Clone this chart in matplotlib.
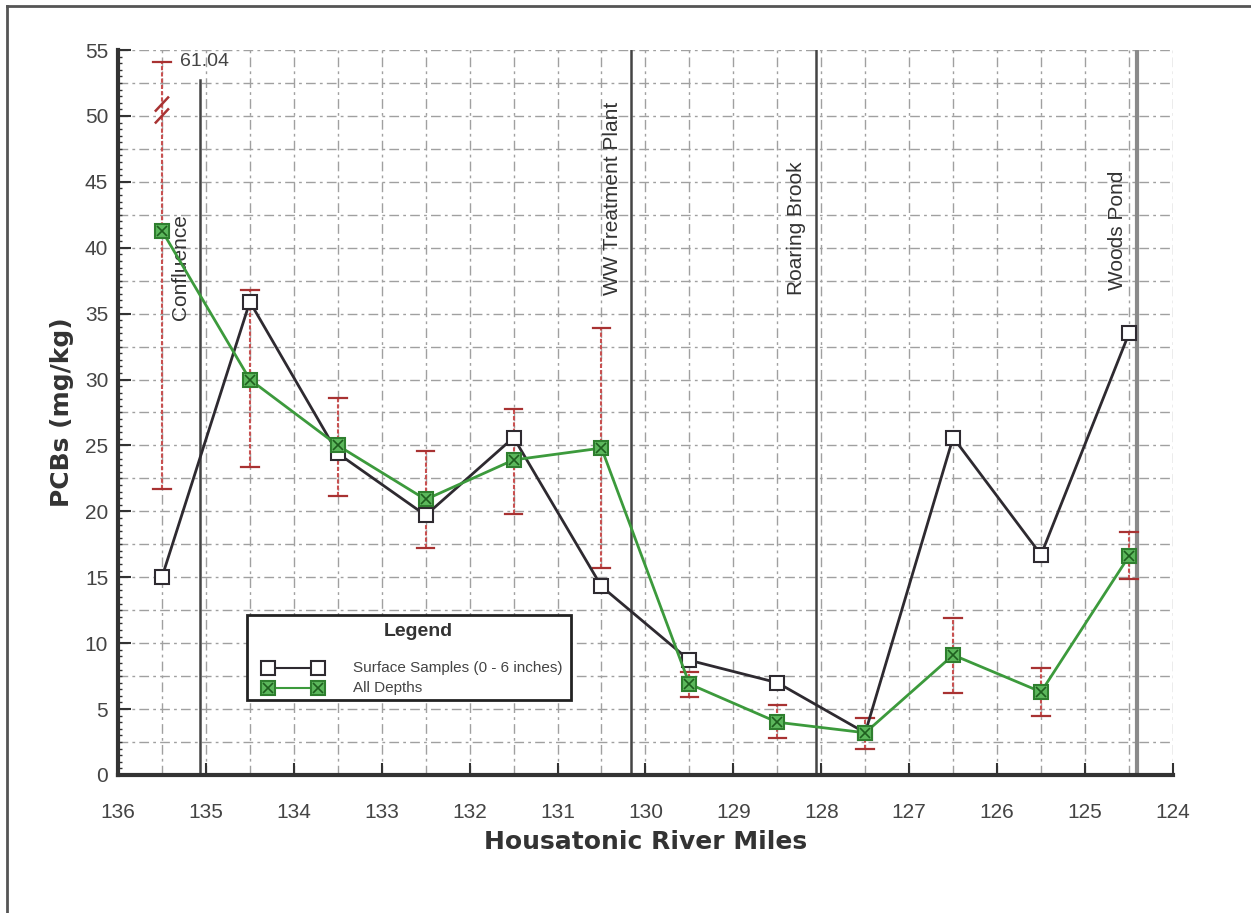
import numpy as np
import matplotlib
matplotlib.use("Agg")
import matplotlib.pyplot as plt
from matplotlib.lines import Line2D
from matplotlib.patches import Rectangle
from matplotlib.ticker import MultipleLocator

plt.rcParams['font.family'] = ['Liberation Sans', 'DejaVu Sans']

# river mile of each sampling reach (midpoints)
river_mile = [135.5, 134.5, 133.5, 132.5, 131.5, 130.5,
              129.5, 128.5, 127.5, 126.5, 125.5, 124.5]

# surface samples (0 - 6 inches)
surface_pcb = [15.0, 35.9, 24.4, 19.7, 25.6, 14.3,
               8.7, 7.0, 3.2, 25.6, 16.7, 33.5]

# all depths, with low / high range
all_depths_pcb = [41.3, 30.0, 25.0, 20.9, 23.9, 24.8,
                  6.9, 4.0, 3.2, 9.1, 6.3, 16.6]
all_depths_low = [21.7, 23.4, 21.2, 17.2, 19.8, 15.7,
                  5.9, 2.8, 2.0, 6.2, 4.5, 14.9]
all_depths_high = [61.04, 36.8, 28.6, 24.6, 27.8, 33.9,
                   7.8, 5.3, 4.3, 11.9, 8.1, 18.4]

# landmarks along the river
landmark_names = ["Confluence", "WW Treatment Plant", "Roaring Brook", "Woods Pond"]
landmark_miles = [135.07, 130.16, 128.06, 124.41]

legend_labels = ["Surface Samples (0 - 6 inches)", "All Depths"]

y_top = 55
y_clip = 54.1   # broken error bar is drawn up to here

xticks = list(range(136, 123, -1))
yticks = list(range(0, 56, 5))

surface_style = dict(color='#2e2a30', linewidth=2, marker='s', markersize=10,
                     markerfacecolor='white', markeredgecolor='#2e2a30', markeredgewidth=1.5)
depth_style = dict(color='#3c9a3c', linewidth=2, marker='s', markersize=10,
                   markerfacecolor='#5cb85c', markeredgecolor='#2f7f2f', markeredgewidth=1.5)
cross_style = dict(linestyle='none', marker='x', markersize=7,
                   markeredgecolor='#1f5f1f', markeredgewidth=1.2)

fig = plt.figure(figsize=(12.51, 9.13), dpi=100)
ax = fig.add_axes([0.0943, 0.1512, 0.8433, 0.794])

ax.set_xlim(136, 124)
ax.set_ylim(0, y_top)

# grid
ax.xaxis.set_minor_locator(MultipleLocator(0.5))
ax.yaxis.set_minor_locator(MultipleLocator(0.5))
ax.set_xticks(xticks)
ax.set_yticks(yticks)
grid_style = dict(color='#a0a0a0', linewidth=1.0, dashes=(7, 3, 2, 3))
for gx in np.arange(136, 123.9, -0.5):
    ax.axvline(gx, zorder=0.5, **grid_style)
for gy in np.arange(2.5, y_top + 0.1, 2.5):
    ax.axhline(gy, zorder=0.5, **grid_style)

for s in ['top', 'right']:
    ax.spines[s].set_visible(False)
for s in ['left', 'bottom']:
    ax.spines[s].set_linewidth(3)
    ax.spines[s].set_color('#333333')

ax.tick_params(axis='both', which='major', direction='in', length=9, width=1.5,
               color='#333333', labelsize=15, labelcolor='#444444')
ax.tick_params(axis='x', which='major', pad=20)
ax.tick_params(axis='y', which='major', pad=7)
ax.tick_params(axis='y', which='minor', direction='in', length=3, width=1, color='#333333')
ax.tick_params(axis='x', which='minor', length=0)

# landmark lines and labels
label_base = [34.5, 36.4, 36.4, 36.8]
label_offset = 0.22
for name, mile, base in zip(landmark_names, landmark_miles, label_base):
    if name == "Woods Pond":
        ax.plot([mile, mile], [0, y_top], color='#8a8a8a', linewidth=3, zorder=1)
    elif name == "Confluence":
        ax.plot([mile, mile], [0, 52.7], color='#444444', linewidth=1.8, zorder=1)
    else:
        ax.plot([mile, mile], [0, y_top], color='#444444', linewidth=1.8, zorder=1)
    ax.text(mile + label_offset, base, name, rotation=90, ha='center', va='bottom',
            fontsize=15, color='#333333', zorder=2)

# error bars on all-depths values (first one runs off the scale)
err_color = '#a83232'
high_drawn = [min(h, y_clip) for h in all_depths_high]
for m, lo, hi in zip(river_mile, all_depths_low, high_drawn):
    ax.plot([m, m], [lo, hi], color='#c85050', linewidth=1.5, linestyle=(0, (2, 1)), zorder=2)
    for cap in (lo, hi):
        ax.plot([m - 0.1, m + 0.1], [cap, cap], color=err_color, linewidth=1.6, zorder=2)

# axis-break marks on the off-scale bar
for yb in (50.9, 50.0):
    ax.plot([river_mile[0] + 0.07, river_mile[0] - 0.07], [yb - 0.5, yb + 0.5],
            color=err_color, linewidth=1.8, zorder=3)
ax.text(river_mile[0] - 0.2, y_clip, "%.2f" % all_depths_high[0], ha='left', va='center',
        fontsize=14, color='#444444')

# data series
ax.plot(river_mile, surface_pcb, zorder=4, **surface_style)
ax.plot(river_mile, all_depths_pcb, zorder=5, **depth_style)
ax.plot(river_mile, all_depths_pcb, zorder=6, **cross_style)

ax.set_xlabel("Housatonic River Miles", fontsize=18, fontweight='bold', color='#333333',
              family='DejaVu Sans', labelpad=6)
ax.set_ylabel("PCBs (mg/kg)", fontsize=18, fontweight='bold', color='#333333',
              family='DejaVu Sans', labelpad=8)

# legend box, drawn in figure coordinates
fig.patches.append(Rectangle((0.1974, 0.2333), 0.259, 0.0931, transform=fig.transFigure,
                             facecolor='white', edgecolor='#222222', linewidth=2, zorder=10))
fig.text(0.3341, 0.3078, "Legend", ha='center', va='center', fontsize=14,
         fontweight='bold', color='#333333', zorder=11)
entry_y = [0.2683, 0.2464]
mark_x = [0.2142, 0.2542]
fig.add_artist(Line2D(mark_x, [entry_y[0]] * 2, transform=fig.transFigure, zorder=11,
                      **dict(surface_style, linewidth=1.5)))
fig.add_artist(Line2D(mark_x, [entry_y[1]] * 2, transform=fig.transFigure, zorder=11,
                      **dict(depth_style, linewidth=1.5)))
fig.add_artist(Line2D(mark_x, [entry_y[1]] * 2, transform=fig.transFigure, zorder=12,
                      **cross_style))
for lab, ey in zip(legend_labels, entry_y):
    fig.text(0.2822, ey, lab, ha='left', va='center', fontsize=11, color='#444444', zorder=11)

# page border
fig.add_artist(Line2D([0.0056, 0.0056], [0, 0.9934], transform=fig.transFigure,
                      color='#555555', linewidth=2))
fig.add_artist(Line2D([0.0056, 1], [0.9934, 0.9934], transform=fig.transFigure,
                      color='#555555', linewidth=2))

fig.savefig("out.png", dpi=100)
